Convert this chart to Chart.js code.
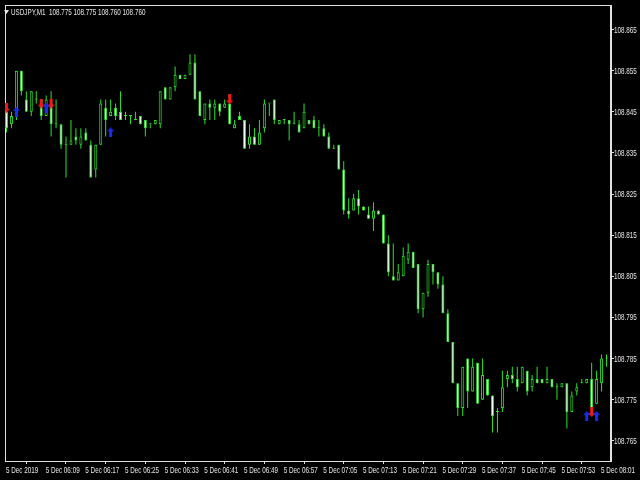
<!DOCTYPE html>
<html>
<head>
<meta charset="utf-8">
<script src="https://cdn.jsdelivr.net/npm/chart.js@4.4.0/dist/chart.umd.min.js"></script>
<style>
  html, body { margin: 0; padding: 0; background: #000; }
  canvas { display: block; }
</style>
</head>
<body>
<canvas id="chart" width="640" height="480"></canvas>
<script>
// USDJPY M1, 5 Dec 2019 06:01 - 08:02
const symbolTitle = "USDJPY,M1  108.775 108.775 108.760 108.760";

const timeLabels = ["5 Dec 2019", "5 Dec 06:09", "5 Dec 06:17", "5 Dec 06:25", "5 Dec 06:33", "5 Dec 06:41",
  "5 Dec 06:49", "5 Dec 06:57", "5 Dec 07:05", "5 Dec 07:13", "5 Dec 07:21", "5 Dec 07:29",
  "5 Dec 07:37", "5 Dec 07:45", "5 Dec 07:53", "5 Dec 08:01"];
const barsPerLabel = 8;

const priceTicks = [108.765, 108.775, 108.785, 108.795, 108.805, 108.815, 108.825, 108.835, 108.845, 108.855, 108.865];

const opens = [
  108.845, 108.842, 108.844, 108.855, 108.848, 108.845, 108.848, 108.848, 108.844, 108.847,
  108.842, 108.842, 108.837, 108.837, 108.839, 108.837, 108.840, 108.837, 108.831, 108.837,
  108.846, 108.844, 108.846, 108.845, 108.844, 108.844, 108.843, 108.844, 108.843, 108.842,
  108.842, 108.842, 108.851, 108.848, 108.851, 108.854, 108.853, 108.854, 108.857, 108.850,
  108.843, 108.847, 108.846, 108.847, 108.846, 108.847, 108.841, 108.844, 108.843, 108.837,
  108.839, 108.837, 108.841, 108.847, 108.848, 108.842, 108.843, 108.843, 108.842, 108.842,
  108.841, 108.843, 108.843, 108.841, 108.841, 108.839, 108.836, 108.837, 108.831, 108.821,
  108.821, 108.824, 108.822, 108.820, 108.819, 108.821, 108.820, 108.813, 108.805, 108.804,
  108.805, 108.809, 108.811, 108.808, 108.797, 108.801, 108.808, 108.806, 108.803, 108.796,
  108.789, 108.779, 108.773, 108.785, 108.777, 108.784, 108.775, 108.780, 108.776, 108.772,
  108.773, 108.780, 108.781, 108.780, 108.779, 108.782, 108.778, 108.780, 108.780, 108.779,
  108.780, 108.778, 108.778, 108.779, 108.772, 108.777, 108.779, 108.779, 108.780, 108.774,
  108.779, 108.785];
const highs = [
  108.846, 108.845, 108.855, 108.855, 108.850, 108.850, 108.850, 108.848, 108.849, 108.850,
  108.848, 108.842, 108.839, 108.843, 108.841, 108.841, 108.841, 108.838, 108.837, 108.848,
  108.848, 108.848, 108.847, 108.850, 108.845, 108.844, 108.845, 108.844, 108.843, 108.842,
  108.843, 108.850, 108.851, 108.851, 108.856, 108.854, 108.854, 108.859, 108.859, 108.850,
  108.847, 108.848, 108.848, 108.847, 108.848, 108.847, 108.843, 108.845, 108.843, 108.842,
  108.841, 108.843, 108.848, 108.847, 108.848, 108.843, 108.843, 108.843, 108.845, 108.843,
  108.847, 108.843, 108.844, 108.843, 108.842, 108.840, 108.837, 108.837, 108.833, 108.824,
  108.825, 108.826, 108.822, 108.822, 108.823, 108.821, 108.820, 108.815, 108.813, 108.808,
  108.812, 108.813, 108.811, 108.808, 108.801, 108.809, 108.808, 108.806, 108.805, 108.797,
  108.789, 108.779, 108.783, 108.785, 108.785, 108.784, 108.785, 108.780, 108.776, 108.773,
  108.782, 108.782, 108.783, 108.783, 108.783, 108.782, 108.781, 108.783, 108.780, 108.783,
  108.780, 108.779, 108.779, 108.779, 108.777, 108.779, 108.780, 108.780, 108.784, 108.782,
  108.786, 108.786];
const lows = [
  108.840, 108.841, 108.843, 108.849, 108.845, 108.844, 108.847, 108.843, 108.844, 108.839,
  108.841, 108.836, 108.829, 108.837, 108.837, 108.836, 108.838, 108.829, 108.829, 108.837,
  108.839, 108.844, 108.843, 108.843, 108.843, 108.842, 108.843, 108.842, 108.839, 108.841,
  108.842, 108.841, 108.848, 108.848, 108.850, 108.853, 108.853, 108.854, 108.848, 108.844,
  108.842, 108.843, 108.843, 108.844, 108.846, 108.842, 108.841, 108.843, 108.836, 108.836,
  108.837, 108.837, 108.840, 108.844, 108.842, 108.842, 108.842, 108.838, 108.842, 108.840,
  108.841, 108.842, 108.841, 108.839, 108.839, 108.836, 108.836, 108.831, 108.820, 108.819,
  108.821, 108.820, 108.821, 108.819, 108.816, 108.820, 108.813, 108.805, 108.804, 108.804,
  108.805, 108.808, 108.807, 108.796, 108.795, 108.800, 108.803, 108.802, 108.796, 108.789,
  108.779, 108.771, 108.771, 108.773, 108.777, 108.774, 108.775, 108.776, 108.767, 108.767,
  108.772, 108.778, 108.779, 108.777, 108.779, 108.776, 108.777, 108.779, 108.779, 108.779,
  108.778, 108.775, 108.778, 108.768, 108.772, 108.776, 108.779, 108.779, 108.773, 108.774,
  108.777, 108.783];
const closes = [
  108.841, 108.844, 108.855, 108.850, 108.845, 108.850, 108.848, 108.844, 108.848, 108.842,
  108.842, 108.837, 108.837, 108.838, 108.838, 108.839, 108.838, 108.829, 108.837, 108.847,
  108.843, 108.845, 108.844, 108.843, 108.844, 108.844, 108.843, 108.842, 108.841, 108.842,
  108.843, 108.850, 108.848, 108.851, 108.854, 108.853, 108.854, 108.857, 108.848, 108.844,
  108.847, 108.846, 108.847, 108.845, 108.847, 108.842, 108.842, 108.843, 108.836, 108.839,
  108.837, 108.840, 108.847, 108.847, 108.843, 108.843, 108.843, 108.842, 108.842, 108.840,
  108.845, 108.842, 108.841, 108.841, 108.839, 108.836, 108.836, 108.831, 108.821, 108.820,
  108.824, 108.822, 108.821, 108.819, 108.821, 108.820, 108.813, 108.806, 108.804, 108.806,
  108.810, 108.811, 108.807, 108.797, 108.801, 108.808, 108.806, 108.803, 108.796, 108.789,
  108.779, 108.773, 108.783, 108.777, 108.783, 108.774, 108.781, 108.776, 108.771, 108.772,
  108.778, 108.781, 108.780, 108.778, 108.783, 108.777, 108.780, 108.779, 108.779, 108.780,
  108.778, 108.778, 108.779, 108.772, 108.776, 108.778, 108.779, 108.780, 108.773, 108.780,
  108.785, 108.785];

// indicator arrows: [bar, price]
const upArrows = [[2, 108.845], [8, 108.846], [21, 108.840], [117, 108.771], [119, 108.771]];
const downArrows = [[0, 108.846], [7, 108.847], [9, 108.847], [45, 108.848], [118, 108.772]];

const green = '#2ee02e';
const bearFill = '#f2fff0';
const textColor = '#e6e6e6';
const axisColor = '#e0e0e0';
const labelFont = '9px "Liberation Sans", Arial, sans-serif';
const squeeze = 0.7; // the terminal font is very narrow

function makeArrow(color, up) {
  const c = document.createElement('canvas');
  c.width = 7;
  c.height = 10;
  const g = c.getContext('2d');
  g.fillStyle = color;
  g.beginPath();
  if (up) {
    g.moveTo(3.5, 0); g.lineTo(7, 4); g.lineTo(5, 4); g.lineTo(5, 10);
    g.lineTo(2, 10); g.lineTo(2, 4); g.lineTo(0, 4);
  } else {
    g.moveTo(3.5, 10); g.lineTo(7, 6); g.lineTo(5, 6); g.lineTo(5, 0);
    g.lineTo(2, 0); g.lineTo(2, 6); g.lineTo(0, 6);
  }
  g.closePath();
  g.fill();
  return c;
}

function narrowText(ctx, text, x, y) {
  ctx.save();
  ctx.translate(x, y);
  ctx.scale(squeeze, 1);
  ctx.fillText(text, 0, 0);
  ctx.restore();
}

const frame = {
  id: 'frame',
  beforeDatasetsDraw(chart) {
    const { ctx, chartArea: a } = chart;
    ctx.save();
    ctx.strokeStyle = axisColor;
    ctx.lineWidth = 1;
    ctx.strokeRect(a.left + 0.5, a.top + 0.5, a.right - a.left - 1, a.bottom - a.top);
    ctx.restore();
  },
  afterDraw(chart) {
    const { ctx, chartArea: a } = chart;
    const xs = chart.scales.x;
    const ys = chart.scales.y;
    ctx.save();
    ctx.fillStyle = textColor;
    ctx.font = labelFont;

    // time labels under the axis
    ctx.textBaseline = 'top';
    ctx.textAlign = 'left';
    timeLabels.forEach((t, i) => {
      narrowText(ctx, t, xs.getPixelForValue(i * barsPerLabel) - 0.5, a.bottom + 5);
    });

    // price labels right of the axis
    ctx.textBaseline = 'middle';
    priceTicks.forEach(v => {
      narrowText(ctx, v.toFixed(3), a.right + 3, ys.getPixelForValue(v) + 0.5);
    });

    // symbol title
    ctx.beginPath();
    ctx.moveTo(4, 10); ctx.lineTo(9, 10); ctx.lineTo(6.5, 14);
    ctx.closePath();
    ctx.fill();
    narrowText(ctx, symbolTitle, 11, 12.5);
    ctx.restore();
  }
};

const ctx = document.getElementById('chart').getContext('2d');

new Chart(ctx, {
  type: 'bar',
  data: {
    datasets: [
      {
        type: 'scatter',
        data: upArrows.map(a => ({ x: a[0], y: a[1] })),
        pointStyle: makeArrow('#1a2cf0', true),
        order: -2
      },
      {
        type: 'scatter',
        data: downArrows.map(a => ({ x: a[0], y: a[1] })),
        pointStyle: makeArrow('#f01818', false),
        order: -1
      },
      {
        data: opens.map((o, i) => ({ x: i, y: [o, closes[i]] })),
        backgroundColor: opens.map((o, i) => closes[i] < o ? bearFill : '#000000'),
        borderColor: green,
        borderWidth: 1,
        borderSkipped: false,
        barThickness: 3,
        minBarLength: 1,
        inflateAmount: 0,
        grouped: false,
        order: 0
      },
      {
        data: highs.map((h, i) => ({ x: i, y: [lows[i], h] })),
        backgroundColor: green,
        borderWidth: 0,
        barThickness: 1,
        minBarLength: 1,
        inflateAmount: 0,
        grouped: false,
        order: 1
      }
    ]
  },
  options: {
    responsive: false,
    animation: false,
    devicePixelRatio: 1,
    layout: { padding: { top: 3, left: 0, right: 0, bottom: 0 } },
    plugins: {
      legend: { display: false },
      tooltip: { enabled: false }
    },
    scales: {
      x: {
        type: 'linear',
        min: -0.3,
        max: 121.9,
        offset: false,
        afterBuildTicks: scale => {
          scale.ticks = timeLabels.map((t, i) => ({ value: i * barsPerLabel }));
        },
        afterFit: scale => { scale.height = 19; },
        grid: { display: true, drawOnChartArea: false, drawTicks: true, tickLength: 3, color: axisColor },
        border: { display: true, color: axisColor },
        ticks: { display: false }
      },
      y: {
        position: 'right',
        min: 108.76008,
        max: 108.87098,
        afterBuildTicks: scale => {
          scale.ticks = priceTicks.map(v => ({ value: v }));
        },
        afterFit: scale => { scale.width = 29; },
        grid: { display: true, drawOnChartArea: false, drawTicks: true, tickLength: 3, color: axisColor },
        border: { display: true, color: axisColor },
        ticks: { display: false }
      }
    }
  },
  plugins: [frame]
});
</script>
</body>
</html>
